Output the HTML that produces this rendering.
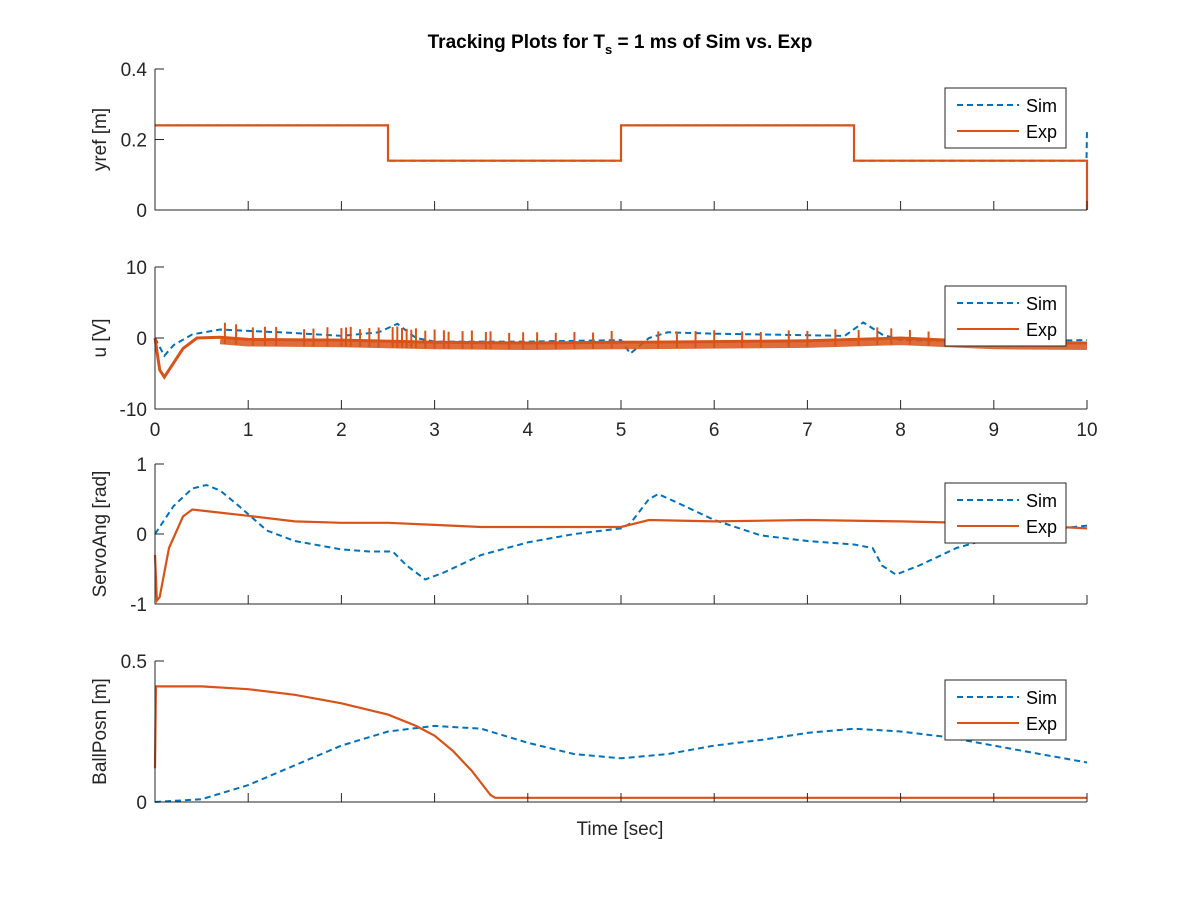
<!DOCTYPE html>
<html><head><meta charset="utf-8"><style>
body{margin:0;background:#fff}
svg{display:block;font-family:"Liberation Sans",Arial,sans-serif}
</style></head><body>
<svg id="fig" width="1200" height="900" viewBox="0 0 1200 900">
<rect width="1200" height="900" fill="#fff"/>
<text x="620" y="48" text-anchor="middle" font-size="19" font-weight="bold" fill="#000">Tracking Plots for T<tspan font-size="13" dy="6">s</tspan><tspan dy="-6"> = 1 ms of Sim vs. Exp</tspan></text>
<text x="620" y="835" text-anchor="middle" font-size="19" fill="#262626">Time [sec]</text>
</svg>
<script>
// ---- data ----
const yrefSimT=[0,2.5,2.5,5,5,7.5,7.5,9.995,10];
const yrefSimV=[0.24,0.24,0.14,0.14,0.24,0.24,0.14,0.14,0.23];
const yrefExpT=[0,2.5,2.5,5,5,7.5,7.5,10,10];
const yrefExpV=[0.24,0.24,0.14,0.14,0.24,0.24,0.14,0.14,0];
const uSimT=[0,0.1,0.2,0.4,0.7,1,1.5,2,2.4,2.6,2.8,3,4,5,5.1,5.3,5.5,6,7,7.4,7.6,7.8,8,9,10];
const uSimV=[0,-2.5,-1,0.5,1.2,1,0.7,0.3,0.8,2,0,-0.5,-0.5,-0.3,-2.2,0,0.8,0.6,0.4,0.3,2.2,0.5,-0.3,-0.5,-0.3];
const uExpT=[0,0.05,0.1,0.2,0.3,0.45,0.7,1,2,3,4,5,6,7,8,9,10];
const uExpV=[0,-4.5,-5.5,-3.5,-1.5,0,0.1,-0.2,-0.3,-0.6,-0.7,-0.6,-0.5,-0.4,0,-0.6,-0.7];
const uSpikeT=[0.75,0.87,1.05,1.18,1.3,1.6,1.7,1.85,2.0,2.05,2.1,2.2,2.3,2.4,2.55,2.6,2.65,2.7,2.75,2.8,2.9,3.0,3.1,3.15,3.3,3.4,3.55,3.6,3.8,3.95,4.1,4.3,4.5,4.7,4.9,5.4,5.6,5.8,6.0,6.3,6.5,6.8,7.0,7.3,7.55,7.75,7.9,8.1,8.3];
const uSpikeV=[1.8,1.7,1.4,1.5,1.5,1.2,1.3,1.5,1.4,1.5,1.6,1.3,1.5,1.6,1.7,1.8,1.6,1.5,1.4,1.6,1.3,1.5,1.4,1.2,1.3,1.4,1.2,1.3,1.1,1.2,1.2,1.1,1.2,1.1,1.3,1.2,1.1,1.2,1.3,1.1,1.0,1.2,1.1,1.2,1.0,1.3,1.1,0.9,0.8];
const saSimT=[0,0.2,0.4,0.55,0.7,0.9,1.2,1.5,2,2.3,2.55,2.7,2.9,3.1,3.5,4,4.5,5,5.1,5.3,5.4,5.6,6,6.5,7,7.5,7.7,7.8,7.95,8.2,8.6,9,9.5,10];
const saSimV=[0,0.4,0.65,0.7,0.62,0.4,0.05,-0.1,-0.22,-0.25,-0.25,-0.45,-0.65,-0.55,-0.3,-0.12,0,0.08,0.15,0.5,0.57,0.45,0.2,-0.02,-0.1,-0.15,-0.2,-0.45,-0.58,-0.45,-0.2,-0.05,0.05,0.12];
const saExpT=[0,0.02,0.05,0.15,0.3,0.4,0.6,1,1.5,2,2.5,3,3.5,4,4.5,5,5.3,6,7,8,9,10];
const saExpV=[-0.3,-0.95,-0.9,-0.2,0.25,0.35,0.32,0.26,0.18,0.16,0.16,0.13,0.1,0.1,0.1,0.1,0.2,0.18,0.2,0.18,0.15,0.08];
const bpSimT=[0,0.5,1,1.5,2,2.5,3,3.5,4,4.5,5,5.5,6,6.5,7,7.5,8,8.5,9,9.5,10];
const bpSimV=[0,0.01,0.06,0.13,0.2,0.25,0.27,0.26,0.21,0.17,0.155,0.17,0.2,0.22,0.245,0.26,0.25,0.23,0.2,0.17,0.14];
const bpExpT=[0,0.01,0.5,1,1.5,2,2.5,2.8,3,3.2,3.4,3.6,3.65,10];
const bpExpV=[0.12,0.41,0.41,0.4,0.38,0.35,0.31,0.27,0.235,0.18,0.11,0.025,0.015,0.015];
const xTicks=[0,1,2,3,4,5,6,7,8,9,10];

const NS='http://www.w3.org/2000/svg';
const svg=document.getElementById('fig');
const SIM='#0072BD',EXP='#D95319';
const X0=155,X1=1087;
const sx=t=>X0+(t/10)*(X1-X0);
function mk(tag,attrs,parent){const e=document.createElementNS(NS,tag);for(const k in attrs)e.setAttribute(k,attrs[k]);(parent||svg).appendChild(e);return e;}

const panels=[
 {name:'yref',top:69,bot:210,min:0,max:0.4,yt:[0,0.2,0.4],lab:'yref [m]',s:[yrefSimT,yrefSimV],e:[yrefExpT,yrefExpV],xl:false},
 {name:'u',top:267,bot:409,min:-10,max:10,yt:[-10,0,10],lab:'u [V]',s:[uSimT,uSimV],e:[uExpT,uExpV],xl:true},
 {name:'servo-ang',top:464,bot:604,min:-1,max:1,yt:[-1,0,1],lab:'ServoAng [rad]',s:[saSimT,saSimV],e:[saExpT,saExpV],xl:false},
 {name:'ball-posn',top:661,bot:802,min:0,max:0.5,yt:[0,0.5],lab:'BallPosn [m]',s:[bpSimT,bpSimV],e:[bpExpT,bpExpV],xl:false}
];
panels.forEach((p,i)=>{
 const g=mk('g',{});
 
 
 const sy=v=>p.bot-(v-p.min)/(p.max-p.min)*(p.bot-p.top);
 const path=(T,V)=>T.map((t,k)=>(k?'L':'M')+sx(t).toFixed(1)+' '+sy(V[k]).toFixed(1)).join(' ');
 const sl=mk('path',{d:path(p.s[0],p.s[1]),fill:'none',stroke:SIM,'stroke-width':2,'stroke-dasharray':'6,4'},g);
 
 
 if(p.name==='u'){
  const bT=uExpT.filter(t=>t>=0.7), bV=uExpV.filter((v,k)=>uExpT[k]>=0.7).map(v=>v-0.5);
  const band=mk('path',{d:path(bT,bV),fill:'none',stroke:EXP,'stroke-width':7,'stroke-opacity':0.85},g);
  
  
  const interp=t=>{for(let k=1;k<uExpT.length;k++){if(t<=uExpT[k]){const f=(t-uExpT[k-1])/(uExpT[k]-uExpT[k-1]);return uExpV[k-1]+f*(uExpV[k]-uExpV[k-1]);}}return uExpV[uExpV.length-1];};
  uSpikeT.forEach((t,k)=>{
   const b=interp(t);
   const sp=mk('line',{x1:sx(t),x2:sx(t),y1:sy(b-0.9),y2:sy(b+uSpikeV[k]+0.3),stroke:EXP,'stroke-width':2},g);
   
   
  });
 }
 const el=mk('path',{d:path(p.e[0],p.e[1]),fill:'none',stroke:EXP,'stroke-width':p.name==='u'?3:2.2},g);
 
 
 const ax=mk('path',{d:`M${X0} ${p.top}L${X0} ${p.bot}L${X1} ${p.bot}`,fill:'none',stroke:'#262626','stroke-width':1},g);
 
 
 xTicks.forEach(t=>{
  mk('line',{x1:sx(t),x2:sx(t),y1:p.bot,y2:p.bot-9,stroke:'#262626','stroke-width':1},g);
  if(p.xl){const tx=mk('text',{x:sx(t),y:p.bot+27,'text-anchor':'middle','font-size':19,fill:'#262626'},g);tx.textContent=t;
   
   }
 });
 p.yt.forEach(v=>{
  mk('line',{x1:X0,x2:X0+9,y1:sy(v),y2:sy(v),stroke:'#262626','stroke-width':1},g);
  const tx=mk('text',{x:X0-8,y:sy(v)+7,'text-anchor':'end','font-size':19,fill:'#262626'},g);tx.textContent=v;
  
  
 });
 const cy=(p.top+p.bot)/2;
 const yl=mk('text',{x:106,y:cy,'text-anchor':'middle','font-size':19,fill:'#262626',transform:`rotate(-90 106 ${cy})`},g);
 yl.textContent=p.lab;
 
 
 const ly=88+(p.top-69);
 const lg=mk('g',{},g);
 
 
 mk('rect',{x:945,y:ly,width:121,height:60,fill:'#fff',stroke:'#262626','stroke-width':1},lg);
 mk('line',{x1:957,x2:1019,y1:ly+17,y2:ly+17,stroke:SIM,'stroke-width':2,'stroke-dasharray':'6,4'},lg);
 mk('line',{x1:957,x2:1019,y1:ly+43,y2:ly+43,stroke:EXP,'stroke-width':2},lg);
 const t1=mk('text',{x:1026,y:ly+24,'font-size':18,fill:'#000'},lg);t1.textContent='Sim';
 
 
 const t2=mk('text',{x:1026,y:ly+50,'font-size':18,fill:'#000'},lg);t2.textContent='Exp';
 
 
});
</script>
</body></html>
